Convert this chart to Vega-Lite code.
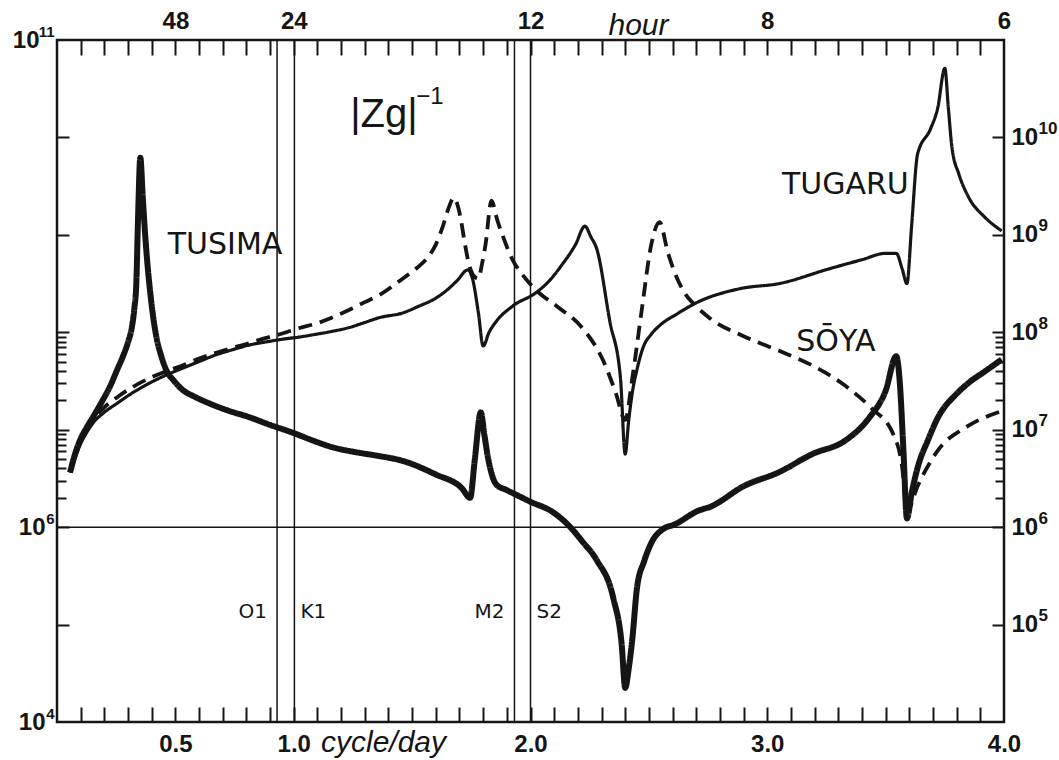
{
  "$schema": "https://vega.github.io/schema/vega-lite/v6.json",
  "width": 947,
  "height": 682,
  "autosize": {"type": "none"},
  "padding": {"left": 57, "top": 40, "right": 55, "bottom": 38},
  "background": "white",
  "datasets": {
    "curves": [
      {"s":"TUSIMA","f":0.055,"z":3.63e6},{"s":"TUSIMA","f":0.075,"z":5.50e6},{"s":"TUSIMA","f":0.097,"z":7.76e6},{"s":"TUSIMA","f":0.125,"z":1.05e7},{"s":"TUSIMA","f":0.152,"z":1.35e7},{"s":"TUSIMA","f":0.19,"z":1.95e7},{"s":"TUSIMA","f":0.223,"z":2.75e7},{"s":"TUSIMA","f":0.255,"z":4.17e7},{"s":"TUSIMA","f":0.278,"z":5.62e7},{"s":"TUSIMA","f":0.300,"z":7.94e7},{"s":"TUSIMA","f":0.316,"z":1.12e8},{"s":"TUSIMA","f":0.327,"z":1.78e8},{"s":"TUSIMA","f":0.335,"z":3.16e8},{"s":"TUSIMA","f":0.342,"z":1.41e9},{"s":"TUSIMA","f":0.352,"z":6.17e9},{"s":"TUSIMA","f":0.362,"z":2.51e9},{"s":"TUSIMA","f":0.371,"z":1.12e9},{"s":"TUSIMA","f":0.382,"z":5.01e8},{"s":"TUSIMA","f":0.392,"z":2.82e8},{"s":"TUSIMA","f":0.405,"z":1.51e8},{"s":"TUSIMA","f":0.42,"z":8.91e7},{"s":"TUSIMA","f":0.44,"z":5.75e7},{"s":"TUSIMA","f":0.462,"z":4.07e7},{"s":"TUSIMA","f":0.495,"z":3.16e7},{"s":"TUSIMA","f":0.53,"z":2.57e7},{"s":"TUSIMA","f":0.58,"z":2.19e7},{"s":"TUSIMA","f":0.644,"z":1.86e7},{"s":"TUSIMA","f":0.72,"z":1.58e7},{"s":"TUSIMA","f":0.81,"z":1.35e7},{"s":"TUSIMA","f":0.90,"z":1.12e7},{"s":"TUSIMA","f":0.995,"z":9.33e6},{"s":"TUSIMA","f":1.08,"z":7.76e6},{"s":"TUSIMA","f":1.163,"z":6.61e6},{"s":"TUSIMA","f":1.26,"z":5.89e6},{"s":"TUSIMA","f":1.36,"z":5.37e6},{"s":"TUSIMA","f":1.46,"z":4.79e6},{"s":"TUSIMA","f":1.60,"z":3.47e6},{"s":"TUSIMA","f":1.71,"z":2.51e6},{"s":"TUSIMA","f":1.745,"z":2.00e6},{"s":"TUSIMA","f":1.765,"z":5.01e6},{"s":"TUSIMA","f":1.79,"z":1.51e7},{"s":"TUSIMA","f":1.805,"z":8.91e6},{"s":"TUSIMA","f":1.82,"z":5.25e6},{"s":"TUSIMA","f":1.855,"z":2.75e6},{"s":"TUSIMA","f":1.90,"z":2.40e6},{"s":"TUSIMA","f":1.95,"z":2.09e6},{"s":"TUSIMA","f":2.00,"z":1.82e6},{"s":"TUSIMA","f":2.09,"z":1.45e6},{"s":"TUSIMA","f":2.165,"z":1.02e6},{"s":"TUSIMA","f":2.22,"z":7.08e5},{"s":"TUSIMA","f":2.28,"z":4.57e5},{"s":"TUSIMA","f":2.35,"z":1.86e5},{"s":"TUSIMA","f":2.385,"z":6.31e4},{"s":"TUSIMA","f":2.40,"z":2.24e4},{"s":"TUSIMA","f":2.415,"z":3.55e4},{"s":"TUSIMA","f":2.43,"z":7.08e4},{"s":"TUSIMA","f":2.45,"z":2.40e5},{"s":"TUSIMA","f":2.48,"z":4.47e5},{"s":"TUSIMA","f":2.515,"z":7.24e5},{"s":"TUSIMA","f":2.56,"z":9.55e5},{"s":"TUSIMA","f":2.61,"z":1.07e6},{"s":"TUSIMA","f":2.71,"z":1.48e6},{"s":"TUSIMA","f":2.76,"z":1.62e6},{"s":"TUSIMA","f":2.90,"z":2.63e6},{"s":"TUSIMA","f":3.05,"z":3.67e6},{"s":"TUSIMA","f":3.19,"z":5.62e6},{"s":"TUSIMA","f":3.33,"z":7.76e6},{"s":"TUSIMA","f":3.43,"z":1.32e7},{"s":"TUSIMA","f":3.50,"z":2.51e7},{"s":"TUSIMA","f":3.545,"z":5.69e7},{"s":"TUSIMA","f":3.56,"z":3.02e7},{"s":"TUSIMA","f":3.575,"z":6.31e6},{"s":"TUSIMA","f":3.59,"z":1.23e6},{"s":"TUSIMA","f":3.61,"z":2.24e6},{"s":"TUSIMA","f":3.635,"z":4.07e6},{"s":"TUSIMA","f":3.68,"z":7.94e6},{"s":"TUSIMA","f":3.72,"z":1.32e7},{"s":"TUSIMA","f":3.80,"z":2.34e7},{"s":"TUSIMA","f":3.85,"z":3.02e7},{"s":"TUSIMA","f":3.92,"z":3.98e7},{"s":"TUSIMA","f":3.99,"z":5.25e7},
      {"s":"TUGARU","f":0.055,"z":3.63e6},{"s":"TUGARU","f":0.075,"z":5.01e6},{"s":"TUGARU","f":0.097,"z":6.92e6},{"s":"TUGARU","f":0.125,"z":9.33e6},{"s":"TUGARU","f":0.152,"z":1.17e7},{"s":"TUGARU","f":0.20,"z":1.51e7},{"s":"TUGARU","f":0.253,"z":1.86e7},{"s":"TUGARU","f":0.32,"z":2.40e7},{"s":"TUGARU","f":0.392,"z":3.02e7},{"s":"TUGARU","f":0.46,"z":3.63e7},{"s":"TUGARU","f":0.53,"z":4.27e7},{"s":"TUGARU","f":0.60,"z":5.01e7},{"s":"TUGARU","f":0.673,"z":5.89e7},{"s":"TUGARU","f":0.74,"z":6.61e7},{"s":"TUGARU","f":0.813,"z":7.41e7},{"s":"TUGARU","f":0.88,"z":7.94e7},{"s":"TUGARU","f":0.955,"z":8.51e7},{"s":"TUGARU","f":1.02,"z":8.91e7},{"s":"TUGARU","f":1.095,"z":9.55e7},{"s":"TUGARU","f":1.16,"z":1.02e8},{"s":"TUGARU","f":1.235,"z":1.12e8},{"s":"TUGARU","f":1.30,"z":1.26e8},{"s":"TUGARU","f":1.36,"z":1.41e8},{"s":"TUGARU","f":1.46,"z":1.58e8},{"s":"TUGARU","f":1.53,"z":1.86e8},{"s":"TUGARU","f":1.60,"z":2.24e8},{"s":"TUGARU","f":1.65,"z":2.75e8},{"s":"TUGARU","f":1.69,"z":3.39e8},{"s":"TUGARU","f":1.735,"z":4.37e8},{"s":"TUGARU","f":1.755,"z":3.55e8},{"s":"TUGARU","f":1.78,"z":1.58e8},{"s":"TUGARU","f":1.80,"z":7.24e7},{"s":"TUGARU","f":1.825,"z":1.00e8},{"s":"TUGARU","f":1.855,"z":1.29e8},{"s":"TUGARU","f":1.925,"z":1.86e8},{"s":"TUGARU","f":2.025,"z":2.57e8},{"s":"TUGARU","f":2.08,"z":3.39e8},{"s":"TUGARU","f":2.135,"z":5.01e8},{"s":"TUGARU","f":2.19,"z":7.94e8},{"s":"TUGARU","f":2.23,"z":1.23e9},{"s":"TUGARU","f":2.255,"z":9.55e8},{"s":"TUGARU","f":2.28,"z":7.16e8},{"s":"TUGARU","f":2.335,"z":1.30e8},{"s":"TUGARU","f":2.38,"z":3.39e7},{"s":"TUGARU","f":2.40,"z":5.62e6},{"s":"TUGARU","f":2.415,"z":1.26e7},{"s":"TUGARU","f":2.43,"z":2.40e7},{"s":"TUGARU","f":2.45,"z":4.17e7},{"s":"TUGARU","f":2.475,"z":6.92e7},{"s":"TUGARU","f":2.51,"z":9.55e7},{"s":"TUGARU","f":2.545,"z":1.17e8},{"s":"TUGARU","f":2.62,"z":1.55e8},{"s":"TUGARU","f":2.69,"z":1.95e8},{"s":"TUGARU","f":2.89,"z":2.82e8},{"s":"TUGARU","f":3.05,"z":3.16e8},{"s":"TUGARU","f":3.26,"z":4.47e8},{"s":"TUGARU","f":3.40,"z":5.56e8},{"s":"TUGARU","f":3.50,"z":6.46e8},{"s":"TUGARU","f":3.545,"z":6.46e8},{"s":"TUGARU","f":3.57,"z":4.47e8},{"s":"TUGARU","f":3.59,"z":3.16e8},{"s":"TUGARU","f":3.61,"z":1.26e9},{"s":"TUGARU","f":3.635,"z":6.76e9},{"s":"TUGARU","f":3.69,"z":1.23e10},{"s":"TUGARU","f":3.72,"z":2.00e10},{"s":"TUGARU","f":3.75,"z":5.13e10},{"s":"TUGARU","f":3.765,"z":2.00e10},{"s":"TUGARU","f":3.78,"z":7.94e9},{"s":"TUGARU","f":3.81,"z":4.17e9},{"s":"TUGARU","f":3.85,"z":2.45e9},{"s":"TUGARU","f":3.92,"z":1.51e9},{"s":"TUGARU","f":3.99,"z":1.10e9},
      {"s":"SŌYA","f":0.055,"z":3.63e6},{"s":"SŌYA","f":0.075,"z":5.25e6},{"s":"SŌYA","f":0.097,"z":7.24e6},{"s":"SŌYA","f":0.125,"z":9.77e6},{"s":"SŌYA","f":0.152,"z":1.26e7},{"s":"SŌYA","f":0.20,"z":1.70e7},{"s":"SŌYA","f":0.253,"z":2.14e7},{"s":"SŌYA","f":0.32,"z":2.75e7},{"s":"SŌYA","f":0.392,"z":3.39e7},{"s":"SŌYA","f":0.46,"z":3.98e7},{"s":"SŌYA","f":0.53,"z":4.57e7},{"s":"SŌYA","f":0.60,"z":5.37e7},{"s":"SŌYA","f":0.673,"z":6.17e7},{"s":"SŌYA","f":0.74,"z":6.92e7},{"s":"SŌYA","f":0.813,"z":7.76e7},{"s":"SŌYA","f":0.88,"z":8.71e7},{"s":"SŌYA","f":0.955,"z":9.77e7},{"s":"SŌYA","f":1.02,"z":1.10e8},{"s":"SŌYA","f":1.095,"z":1.23e8},{"s":"SŌYA","f":1.16,"z":1.41e8},{"s":"SŌYA","f":1.235,"z":1.70e8},{"s":"SŌYA","f":1.30,"z":2.04e8},{"s":"SŌYA","f":1.36,"z":2.40e8},{"s":"SŌYA","f":1.46,"z":3.55e8},{"s":"SŌYA","f":1.52,"z":4.57e8},{"s":"SŌYA","f":1.57,"z":6.03e8},{"s":"SŌYA","f":1.60,"z":7.94e8},{"s":"SŌYA","f":1.63,"z":1.23e9},{"s":"SŌYA","f":1.655,"z":1.91e9},{"s":"SŌYA","f":1.675,"z":2.40e9},{"s":"SŌYA","f":1.69,"z":2.09e9},{"s":"SŌYA","f":1.705,"z":1.48e9},{"s":"SŌYA","f":1.72,"z":8.91e8},{"s":"SŌYA","f":1.74,"z":5.01e8},{"s":"SŌYA","f":1.76,"z":3.80e8},{"s":"SŌYA","f":1.78,"z":3.55e8},{"s":"SŌYA","f":1.795,"z":5.01e8},{"s":"SŌYA","f":1.81,"z":7.94e8},{"s":"SŌYA","f":1.835,"z":2.24e9},{"s":"SŌYA","f":1.86,"z":1.41e9},{"s":"SŌYA","f":1.88,"z":1.02e9},{"s":"SŌYA","f":1.925,"z":5.50e8},{"s":"SŌYA","f":1.97,"z":3.80e8},{"s":"SŌYA","f":2.025,"z":2.69e8},{"s":"SŌYA","f":2.11,"z":1.86e8},{"s":"SŌYA","f":2.22,"z":1.10e8},{"s":"SŌYA","f":2.305,"z":5.25e7},{"s":"SŌYA","f":2.36,"z":2.40e7},{"s":"SŌYA","f":2.40,"z":1.26e7},{"s":"SŌYA","f":2.43,"z":3.39e7},{"s":"SŌYA","f":2.47,"z":1.70e8},{"s":"SŌYA","f":2.51,"z":7.94e8},{"s":"SŌYA","f":2.545,"z":1.35e9},{"s":"SŌYA","f":2.58,"z":6.61e8},{"s":"SŌYA","f":2.62,"z":3.55e8},{"s":"SŌYA","f":2.655,"z":2.45e8},{"s":"SŌYA","f":2.69,"z":1.95e8},{"s":"SŌYA","f":2.76,"z":1.38e8},{"s":"SŌYA","f":2.90,"z":9.12e7},{"s":"SŌYA","f":3.05,"z":6.46e7},{"s":"SŌYA","f":3.19,"z":4.57e7},{"s":"SŌYA","f":3.33,"z":2.82e7},{"s":"SŌYA","f":3.44,"z":1.66e7},{"s":"SŌYA","f":3.53,"z":9.23e6},{"s":"SŌYA","f":3.57,"z":4.07e6},{"s":"SŌYA","f":3.59,"z":1.45e6},{"s":"SŌYA","f":3.635,"z":2.63e6},{"s":"SŌYA","f":3.72,"z":6.10e6},{"s":"SŌYA","f":3.85,"z":1.10e7},{"s":"SŌYA","f":3.99,"z":1.55e7}
    ],
    "straits": [
      {"name": "TUSIMA", "f": 0.71, "z": 7.85e8},
      {"name": "TUGARU", "f": 3.33, "z": 3.24e9},
      {"name": "SŌYA", "f": 3.29, "z": 7.9e7}
    ],
    "tides": [
      {"name": "O1", "f": 0.9295},
      {"name": "K1", "f": 1.0027},
      {"name": "M2", "f": 1.9323},
      {"name": "S2", "f": 2.0}
    ],
    "ref": [{"z": 1e6}],
    "zg": [{"f": 1.381, "z": 1.28e10, "t": "|Zg|"}],
    "zgexp": [{"f": 1.575, "z": 2.6e10, "t": "−1"}]
  },
  "layer": [
    {
      "data": {"name": "curves"},
      "mark": {"type": "line", "interpolate": "monotone", "color": "#151515", "strokeCap": "butt", "strokeJoin": "round"},
      "encoding": {
        "x": {"field": "f", "type": "quantitative", "scale": {"domain": [0, 4], "nice": false, "zero": false},
          "axis": {"orient": "bottom", "values": [0.1,0.2,0.3,0.4,0.5,0.6,0.7,0.8,0.9,1.0,1.1,1.2,1.3,1.4,1.5,1.6,1.7,1.8,1.9,2.0,2.1,2.2,2.3,2.4,2.5,2.6,2.7,2.8,2.9,3.0,3.1,3.2,3.3,3.4,3.5,3.6,3.7,3.8,3.9], "labels": false, "tickSize": -15, "title": null}},
        "y": {"field": "z", "type": "quantitative", "scale": {"type": "log", "domain": [1e4, 1e11], "nice": false},
          "axis": {"orient": "left", "values": [1e5,1e6,1e7,1e8,1e9,1e10,2e6,3e6,4e6,5e6,6e6,7e6,8e6,9e6,2e7,3e7,4e7,5e7,6e7,7e7,8e7,9e7], "labels": false, "tickSize": {"condition": {"test": "abs(log(datum.value)/LN10 - round(log(datum.value)/LN10)) < 0.001", "value": -12}, "value": -9}, "title": null}},
        "detail": {"field": "s"},
        "strokeWidth": {"field": "s", "type": "nominal", "scale": {"type": "ordinal", "domain": ["TUSIMA", "TUGARU", "SŌYA"], "range": [6, 3.2, 3.8]}, "legend": null},
        "strokeDash": {"field": "s", "type": "nominal", "scale": {"domain": ["TUSIMA", "TUGARU", "SŌYA"], "range": [[1, 0], [1, 0], [14, 8]]}, "legend": null}
      }
    },
    {
      "data": {"name": "ref"},
      "mark": {"type": "rule", "color": "#151515", "strokeWidth": 1.5},
      "encoding": {
        "y": {"field": "z", "type": "quantitative", "scale": {"type": "log", "domain": [1e4, 1e11], "nice": false},
          "axis": {"orient": "right", "values": [1e5,1e6,1e7,1e8,1e9,1e10,2e6,3e6,4e6,5e6,6e6,7e6,8e6,9e6,2e7,3e7,4e7,5e7,6e7,7e7,8e7,9e7], "labels": false, "tickSize": {"condition": {"test": "abs(log(datum.value)/LN10 - round(log(datum.value)/LN10)) < 0.001", "value": -12}, "value": -9}, "title": null}}
      }
    },
    {
      "data": {"name": "straits"},
      "mark": {"type": "text", "font": "DejaVu Sans", "fontSize": 30, "color": "#151515", "align": "center", "baseline": "middle"},
      "encoding": {
        "x": {"field": "f", "type": "quantitative", "scale": {"domain": [0, 4], "nice": false, "zero": false},
          "axis": {"orient": "bottom", "values": [0.5, 1, 2, 3, 4], "ticks": false, "format": ".1f", "labelPadding": 10, "labelFlush": false, "labelOverlap": false,
            "title": "cycle/day", "titleX": 326, "titleY": 20, "titleAlign": "center", "titleBaseline": "middle", "titleAngle": 0}},
        "y": {"field": "z", "type": "quantitative", "scale": {"type": "log", "domain": [1e4, 1e11], "nice": false},
          "axis": {"orient": "left", "values": [1e4, 1e6, 1e11], "ticks": false, "labelPadding": {"condition": {"test": "datum.value > 5e10", "value": 18}, "value": 12}, "labelOverlap": false, "labelFlush": false,
            "labelExpr": "'10'", "title": null}},
        "text": {"field": "name"}
      }
    },
    {
      "data": {"name": "tides"},
      "transform": [{"filter": "datum.name == 'O1' || datum.name == 'M2'"}],
      "mark": {"type": "text", "font": "DejaVu Sans", "fontSize": 20, "color": "#151515", "align": "right", "baseline": "middle", "dx": -10},
      "encoding": {
        "x": {"field": "f", "type": "quantitative", "scale": {"domain": [0, 4], "nice": false, "zero": false},
          "axis": {"orient": "top", "values": [0.1,0.2,0.3,0.4,0.5,0.6,0.7,0.8,0.9,1.0,1.1,1.2,1.3,1.4,1.5,1.6,1.7,1.8,1.9,2.0,2.1,2.2,2.3,2.4,2.5,2.6,2.7,2.8,2.9,3.0,3.1,3.2,3.3,3.4,3.5,3.6,3.7,3.8,3.9], "labels": false, "tickSize": -15, "title": null}},
        "y": {"datum": 1.34e5, "type": "quantitative", "scale": {"type": "log", "domain": [1e4, 1e11], "nice": false},
          "axis": {"orient": "right", "values": [1e5, 1e6, 1e7, 1e8, 1e9, 1e10], "ticks": false, "labelPadding": 7, "labelOverlap": false, "labelFlush": false,
            "labelExpr": "'10'", "title": null}},
        "text": {"field": "name"}
      }
    },
    {
      "data": {"name": "tides"},
      "transform": [{"filter": "datum.name == 'K1' || datum.name == 'S2'"}],
      "mark": {"type": "text", "font": "DejaVu Sans", "fontSize": 20, "color": "#151515", "align": "left", "baseline": "middle", "dx": 6},
      "encoding": {
        "x": {"field": "f", "type": "quantitative", "scale": {"domain": [0, 4], "nice": false, "zero": false}, "axis": null},
        "y": {"datum": 1.34e5, "type": "quantitative", "scale": {"type": "log", "domain": [1e4, 1e11], "nice": false},
          "axis": {"orient": "left", "values": [1e4, 1e6, 1e11], "ticks": false, "labelPadding": 3, "labelAlign": "right", "labelOffset": -9, "labelFontSize": 15, "labelOverlap": false, "labelFlush": false,
            "labelExpr": "datum.value > 5e10 ? '11' : datum.value > 5e5 ? '6' : '4'", "title": null}},
        "text": {"field": "name"}
      }
    },
    {
      "data": {"name": "tides"},
      "mark": {"type": "rule", "color": "#151515", "strokeWidth": 1.5},
      "encoding": {
        "x": {"field": "f", "type": "quantitative", "scale": {"domain": [0, 4], "nice": false, "zero": false},
          "axis": {"orient": "top", "values": [0.5, 1, 2, 3, 4], "ticks": false, "labelPadding": 7, "labelFlush": false, "labelOverlap": false,
            "labelExpr": "datum.value < 0.7 ? '48' : datum.value < 1.5 ? '24' : datum.value < 2.5 ? '12' : datum.value < 3.5 ? '8' : '6'",
            "title": "hour", "titleX": 581, "titleY": -15, "titleAlign": "center", "titleBaseline": "middle", "titleAngle": 0}}
      }
    },
    {
      "data": {"name": "zg"},
      "mark": {"type": "text", "font": "Liberation Sans", "fontSize": 40, "color": "#151515", "align": "center", "baseline": "alphabetic"},
      "encoding": {
        "x": {"field": "f", "type": "quantitative", "scale": {"domain": [0, 4], "nice": false, "zero": false}, "axis": null},
        "y": {"field": "z", "type": "quantitative", "scale": {"type": "log", "domain": [1e4, 1e11], "nice": false},
          "axis": {"orient": "right", "values": [1e5, 1e6, 1e7, 1e8, 1e9, 1e10], "ticks": false, "labelPadding": 34, "labelAlign": "left", "labelOffset": -9, "labelFontSize": 17, "labelOverlap": false, "labelFlush": false,
            "labelExpr": "datum.value > 5e9 ? '10' : datum.value > 5e8 ? '9' : datum.value > 5e7 ? '8' : datum.value > 5e6 ? '7' : datum.value > 5e5 ? '6' : '5'", "title": null}},
        "text": {"field": "t"}
      }
    },
    {
      "data": {"name": "zgexp"},
      "mark": {"type": "text", "font": "Liberation Sans", "fontSize": 24, "color": "#151515", "align": "center", "baseline": "middle"},
      "encoding": {
        "x": {"field": "f", "type": "quantitative", "scale": {"domain": [0, 4], "nice": false, "zero": false}, "axis": null},
        "y": {"field": "z", "type": "quantitative", "scale": {"type": "log", "domain": [1e4, 1e11], "nice": false}, "axis": null},
        "text": {"field": "t"}
      }
    }
  ],
  "resolve": {"axis": {"x": "independent", "y": "independent"}},
  "config": {
    "view": {"stroke": "#151515", "strokeWidth": 2.5},
    "axis": {
      "domain": false, "grid": false,
      "labelFont": "Liberation Sans", "labelFontWeight": "bold", "labelFontSize": 24, "labelColor": "#151515",
      "tickColor": "#151515", "tickWidth": 2,
      "titleFont": "Liberation Sans", "titleFontStyle": "italic", "titleFontWeight": "normal", "titleFontSize": 30, "titleColor": "#151515"
    }
  }
}
